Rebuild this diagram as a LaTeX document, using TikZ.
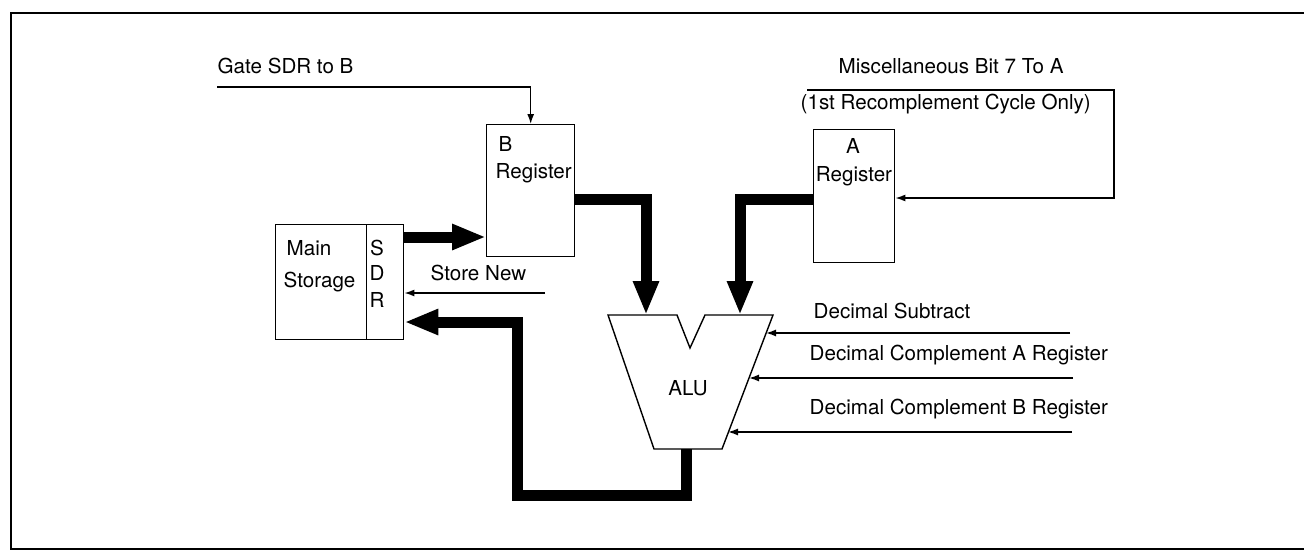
\documentclass[tikz,border=0pt]{standalone}
\usepackage{fontspec}
\setmainfont{TeX Gyre Heros}
\usetikzlibrary{arrows.meta}
\begin{document}
\begin{tikzpicture}[x=1pt,y=-1pt,line width=1.4pt,
    lbl/.style={inner sep=0pt,anchor=mid west,font=\fontsize{20.6}{24}\selectfont},
    reg/.style={draw,inner sep=0pt,anchor=north west},
    sig/.style={-{Latex[length=10pt,width=7pt]}},
    bus/.style={line width=11pt,line join=miter,-{Triangle[length=34pt,width=24pt]}}]
    \useasboundingbox (0,0) rectangle (1304,552);
    \draw (1304,13) -- (11,13) -- (11,549) -- (1304,549);
    % boxes
    \node[reg,minimum width=91pt,minimum height=115pt] (storage) at (275,224) {};
    \node[reg,minimum width=37pt,minimum height=115pt] (sdr) at (366,224) {};
    \node[reg,minimum width=88pt,minimum height=132pt] (breg) at (486,124) {};
    \node[reg,minimum width=81pt,minimum height=133pt] (areg) at (813,129) {};
    \draw (608,315) coordinate (alutl) -- (677,315) -- (690,348) -- (705,315) -- (773,315) coordinate (alutr)
        -- (722,449) coordinate (alubr) -- (654,449) coordinate (alubl) -- cycle;
    \node[lbl] (maintxt) at (286,253) {Main}; \node[lbl] (storagetxt) at (283,285) {Storage};
    \node[lbl,anchor=mid] (sdrs) at (377,253) {S}; \node[lbl,anchor=mid] (sdrd) at (377,278) {D};
    \node[lbl,anchor=mid] (sdrr) at (377,305) {R};
    \node[lbl] (btxt) at (498,149) {B}; \node[lbl] (bregtxt) at (495,176) {Register};
    \node[lbl,anchor=mid] (atxt) at (853,151) {A}; \node[lbl,anchor=mid] (aregtxt) at (854,179) {Register};
    \node[lbl,anchor=mid] (alu) at (688,393) {ALU};
    % signals
    \node[lbl] (gatetxt) at (217,71) {Gate SDR to B};
    \node[lbl] (misctxt) at (838,71) {Miscellaneous Bit 7 To A};
    \node[lbl] (onlytxt) at (800,107) {(1st Recomplement Cycle Only)};
    \node[lbl] (storenewtxt) at (430,278) {Store New};
    \node[lbl] (subtxt) at (813,316) {Decimal Subtract};
    \node[lbl] (compatxt) at (809,358) {Decimal Complement A Register};
    \node[lbl] (compbtxt) at (809,412) {Decimal Complement B Register};
    \coordinate (gatein) at (217,87); \coordinate (miscin) at (807,90); \coordinate (storein) at (545,293);
    \coordinate (subin) at (1070,333); \coordinate (compain) at (1073,378); \coordinate (compbin) at (1072,432);
    \draw[sig] (gatein) -| (breg.north);
    \draw[sig] (miscin) -- (1114,90) |- (areg.east |- 0,198);
    \draw[sig] (storein) -- (storein -| sdr.east);
    \draw[sig] (subin) -- (766,333); \draw[sig] (compain) -- (749,378); \draw[sig] (compbin) -- (728,432);
    % data paths
    \draw[bus] (sdr.east |- 0,237) -- (breg.west |- 0,237);
    \draw[bus] (breg.east |- 0,199) -| (646,315);
    \draw[bus] (areg.west |- 0,199) -| (740,315);
    \draw[bus] (alubl -| 686,0) -- (686,495) -| (517,322) -- (sdr.east |- 0,322);
\end{tikzpicture}
\end{document}
